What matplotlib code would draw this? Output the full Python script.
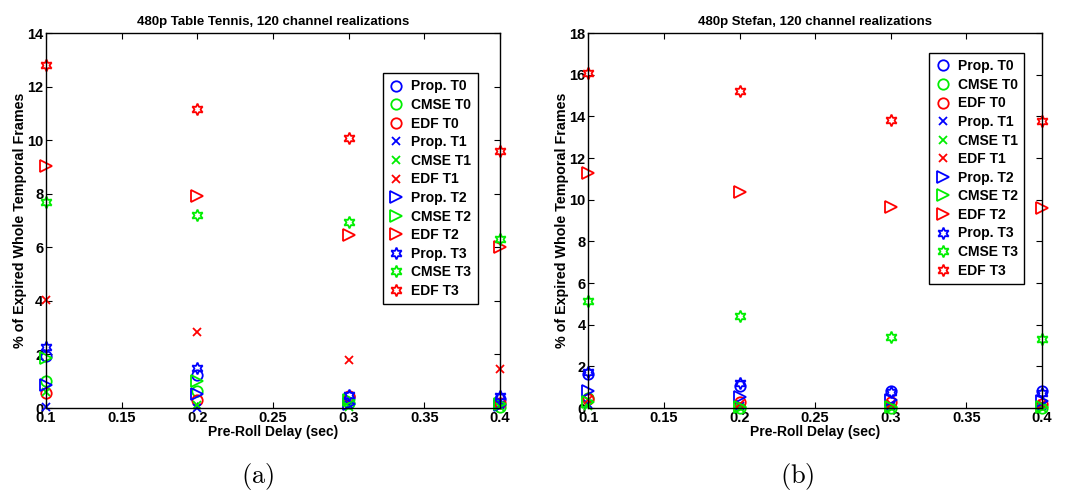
import matplotlib.pyplot as plt

plt.rcParams['font.family'] = ['Liberation Sans', 'DejaVu Sans']
plt.rcParams['font.weight'] = 'bold'
plt.rcParams['mathtext.fontset'] = 'cm'

delays = [0.1, 0.2, 0.3, 0.4]
series_names = ["Prop. T0", "CMSE T0", "EDF T0",
                "Prop. T1", "CMSE T1", "EDF T1",
                "Prop. T2", "CMSE T2", "EDF T2",
                "Prop. T3", "CMSE T3", "EDF T3"]

# 480p Table Tennis
tt_prop_t0 = [1.95, 1.25, 0.4, 0.35]
tt_cmse_t0 = [1.0, 0.65, 0.2, 0.05]
tt_edf_t0 = [0.55, 0.3, 0.45, 0.2]
tt_prop_t1 = [0.05, 0.0, 0.1, 0.1]
tt_cmse_t1 = [0.6, 0.1, 0.05, 0.05]
tt_edf_t1 = [4.05, 2.85, 1.8, 1.45]
tt_prop_t2 = [0.87, 0.52, 0.15, 0.1]
tt_cmse_t2 = [1.85, 1.0, 0.3, 0.15]
tt_edf_t2 = [9.05, 7.9, 6.45, 6.0]
tt_prop_t3 = [2.28, 1.5, 0.5, 0.45]
tt_cmse_t3 = [7.7, 7.2, 6.95, 6.3]
tt_edf_t3 = [12.8, 11.15, 10.1, 9.6]

# 480p Stefan
st_prop_t0 = [1.65, 1.05, 0.8, 0.8]
st_cmse_t0 = [0.5, 0.0, 0.0, 0.0]
st_edf_t0 = [0.45, 0.3, 0.3, 0.2]
st_prop_t1 = [0.2, 0.1, 0.1, 0.1]
st_cmse_t1 = [0.1, 0.0, 0.0, 0.0]
st_edf_t1 = [0.4, 0.2, 0.2, 0.2]
st_prop_t2 = [0.8, 0.55, 0.4, 0.35]
st_cmse_t2 = [0.3, 0.05, 0.05, 0.05]
st_edf_t2 = [11.3, 10.35, 9.65, 9.6]
st_prop_t3 = [1.75, 1.2, 0.75, 0.7]
st_cmse_t3 = [5.15, 4.4, 3.4, 3.3]
st_edf_t3 = [16.1, 15.2, 13.85, 13.8]

tt_data = [tt_prop_t0, tt_cmse_t0, tt_edf_t0, tt_prop_t1, tt_cmse_t1, tt_edf_t1,
           tt_prop_t2, tt_cmse_t2, tt_edf_t2, tt_prop_t3, tt_cmse_t3, tt_edf_t3]
st_data = [st_prop_t0, st_cmse_t0, st_edf_t0, st_prop_t1, st_cmse_t1, st_edf_t1,
           st_prop_t2, st_cmse_t2, st_edf_t2, st_prop_t3, st_cmse_t3, st_edf_t3]

colors = ['#0000ff', '#00ee00', '#ff0000']
markers = ['o', 'x', '>', (6, 1, 0)]
sizes = [7.5, 5.5, 8.5, 8.5]


def draw(ax, data, title, ymax, legend_anchor):
    for i, vals in enumerate(data):
        m = i // 3
        ax.plot(delays, vals, linestyle='none', marker=markers[m],
                markersize=sizes[m], markerfacecolor='none',
                markeredgecolor=colors[i % 3], markeredgewidth=1.3,
                label=series_names[i], clip_on=False)
    ax.set_xlim(0.1, 0.4)
    ax.set_ylim(0, ymax)
    ax.set_xticks([0.1, 0.15, 0.2, 0.25, 0.3, 0.35, 0.4])
    ax.set_xticklabels(['0.1', '0.15', '0.2', '0.25', '0.3', '0.35', '0.4'])
    ax.set_yticks(range(0, ymax + 1, 2))
    ax.tick_params(direction='in', top=True, right=True, labelsize=10.5,
                   length=4, width=0.8, pad=2)
    for s in ax.spines.values():
        s.set_linewidth(1.0)
    ax.set_title(title, fontsize=9.5, fontweight='bold', pad=6)
    ax.set_xlabel('Pre-Roll Delay (sec)', fontsize=10, fontweight='bold', labelpad=0)
    ax.set_ylabel('% of Expired Whole Temporal Frames', fontsize=10.3,
                  fontweight='bold', labelpad=0)
    leg = ax.legend(loc='upper right', bbox_to_anchor=legend_anchor,
                    borderaxespad=0, fontsize=10, fancybox=False,
                    edgecolor='black', handlelength=1.0, handletextpad=0.6,
                    labelspacing=0.33, borderpad=0.45, framealpha=1)
    leg.get_frame().set_linewidth(1.0)


fig = plt.figure(figsize=(10.75, 4.94), dpi=100)
ax1 = fig.add_axes([0.0428, 0.174, 0.4222, 0.759])
ax2 = fig.add_axes([0.5473, 0.174, 0.4219, 0.759])

draw(ax1, tt_data, '480p Table Tennis, 120 channel realizations', 14, (0.951, 0.893))
draw(ax2, st_data, '480p Stefan, 120 channel realizations', 18, (0.961, 0.947))

fig.text(0.24, 0.022, r'$\mathrm{(a)}$', fontsize=19, ha='center')
fig.text(0.742, 0.022, r'$\mathrm{(b)}$', fontsize=19, ha='center')

fig.savefig('out.png', dpi=100)
